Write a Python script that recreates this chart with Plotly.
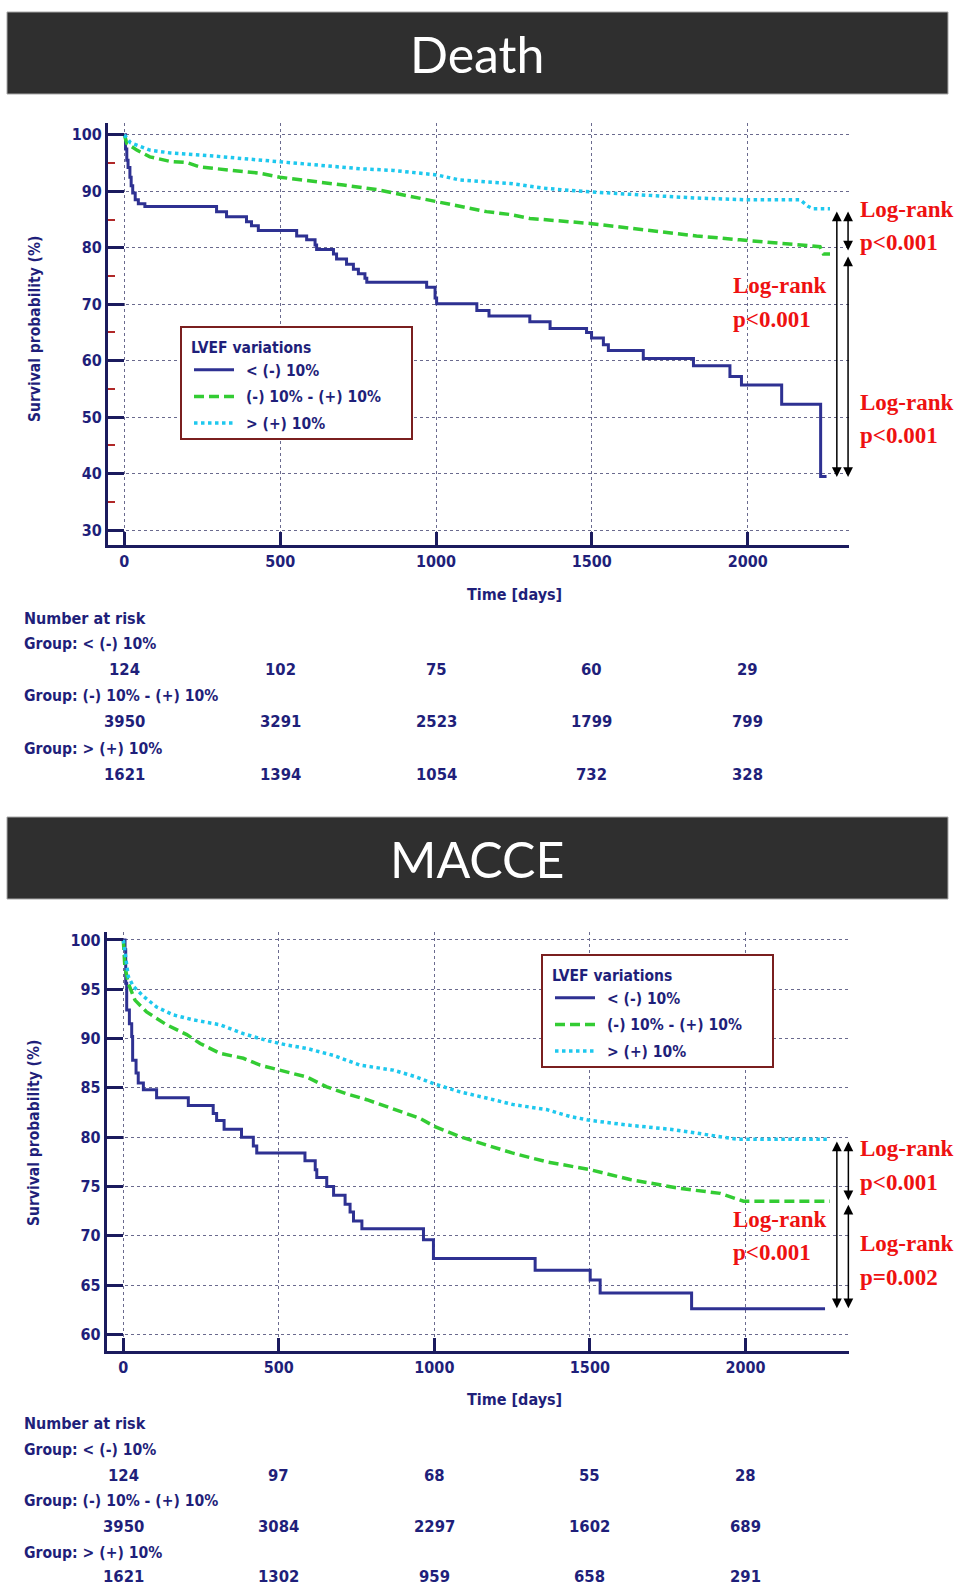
import plotly.graph_objects as go

W, H = 956, 1586


def px(x):
    return x / W


def py(y):
    return 1 - y / H


# ---------------- data ----------------
group_names = ["&lt; (-) 10%", "(-) 10% - (+) 10%", "&gt; (+) 10%"]
risk_times = [0, 500, 1000, 1500, 2000]

# Death
death_low_t = [0, 4, 8, 12, 18, 22, 27, 35, 45, 66, 296, 328, 392, 408, 430, 553, 585, 612, 617,
               671, 681, 713, 735, 751, 772, 778, 970, 997, 1002, 1131, 1170, 1301, 1366, 1483,
               1499, 1537, 1553, 1665, 1826, 1943, 1980, 2109, 2234, 2253]
death_low_s = [100, 97.5, 95.5, 94.2, 92.5, 91.0, 89.7, 88.5, 87.8, 87.3, 86.4, 85.5, 84.6, 83.9,
               83.05, 82.1, 81.4, 80.5, 79.7, 78.9, 78.0, 77.1, 76.2, 75.4, 74.6, 73.9, 73.0, 71.1,
               70.1, 68.9, 67.9, 66.9, 65.7, 65.0, 64.0, 62.8, 61.8, 60.4, 59.1, 57.2, 55.7, 52.3,
               39.5, 39.5]
death_mid_t = [0, 8, 40, 82, 147, 200, 243, 328, 435, 499, 596, 703, 810, 916, 1002, 1077, 1162,
               1237, 1301, 1494, 1676, 1836, 1975, 2104, 2232, 2243, 2264]
death_mid_s = [100, 98.5, 97.3, 96.1, 95.3, 95.1, 94.3, 93.8, 93.2, 92.5, 91.9, 91.1, 90.3, 89.1,
               88.2, 87.3, 86.4, 85.9, 85.2, 84.3, 83.1, 82.1, 81.4, 80.8, 80.2, 78.9, 78.9]
death_high_t = [0, 20, 82, 147, 275, 382, 499, 649, 756, 863, 1002, 1077, 1237, 1355, 1494, 1676,
                1836, 1997, 2168, 2195, 2211, 2264]
death_high_s = [100, 98.6, 97.3, 96.8, 96.3, 95.8, 95.2, 94.6, 94.0, 93.7, 92.9, 92.0, 91.4, 90.5,
                89.9, 89.3, 88.8, 88.5, 88.5, 87.3, 86.9, 86.9]
death_risk = [[124, 102, 75, 60, 29], [3950, 3291, 2523, 1799, 799], [1621, 1394, 1054, 732, 328]]

# MACCE
macce_low_t = [0, 5.5, 7.7, 10.9, 19.5, 27, 30, 41, 48, 64.5, 107, 209, 289, 300, 324, 380, 418,
               429, 584, 617, 622, 654, 676, 713, 729, 740, 767, 965, 997, 1324, 1501, 1533, 1827,
               2256]
macce_low_s = [100, 99.0, 95.6, 92.9, 91.5, 90.2, 87.8, 86.5, 85.5, 84.8, 84.0, 83.2, 82.4, 81.7,
               80.8, 80.0, 79.1, 78.4, 77.6, 76.7, 75.9, 75.0, 74.1, 73.2, 72.4, 71.5, 70.7, 69.6,
               67.7, 66.5, 65.5, 64.2, 62.6, 62.6]
macce_mid_t = [0, 5, 16, 37.5, 75, 139, 204, 247, 311, 386, 440, 499, 590, 654, 718, 783, 868, 954,
               1000, 1082, 1168, 1250, 1361, 1501, 1629, 1790, 1919, 1994, 2272]
macce_mid_s = [100, 97.3, 95.6, 93.9, 92.7, 91.4, 90.4, 89.5, 88.5, 88.0, 87.3, 86.8, 86.1, 85.1,
               84.4, 83.8, 82.9, 81.9, 81.1, 80.05, 79.2, 78.4, 77.5, 76.7, 75.7, 74.8, 74.3, 73.5,
               73.5]
macce_high_t = [0, 8, 16, 32, 64.5, 107, 161, 225, 311, 386, 461, 525, 590, 675, 761, 868, 943, 1000,
                1082, 1190, 1254, 1361, 1436, 1501, 1629, 1758, 1887, 1973, 2272]
macce_high_s = [100, 98.0, 96.3, 95.3, 94.3, 93.2, 92.4, 91.9, 91.4, 90.5, 89.8, 89.35, 89.0, 88.3,
                87.3, 86.8, 86.1, 85.4, 84.6, 83.8, 83.3, 82.8, 82.1, 81.7, 81.2, 80.8, 80.2, 79.8,
                79.8]
macce_risk = [[124, 97, 68, 55, 28], [3950, 3084, 2297, 1602, 689], [1621, 1302, 959, 658, 291]]

# ---------------- style ----------------
NAVY_AX = "#1b1b5e"
NAVY_TXT = "#1f1f7a"
C_LOW = "#2e3192"
C_MID = "#33cc33"
C_HIGH = "#1ec8ee"
RED = "#ee1111"
MAROON = "#7a1f1f"
GRID = "#6a6a8e"
FONT = "DejaVu Sans Condensed, Liberation Sans Narrow, DejaVu Sans, sans-serif"
SERIF = "Liberation Serif, Times New Roman, serif"
GAP = "\u2002"  # spacing between legend sample line and its label

fig = go.Figure()

styles = [dict(color=C_LOW, width=3, dash="solid"),
          dict(color=C_MID, width=3.5, dash="10px,5px"),
          dict(color=C_HIGH, width=3.5, dash="dot")]
shapes_ = ["hv", "linear", "linear"]

for i, ((xs, ys), st, shp, nm) in enumerate(zip([(death_low_t, death_low_s), (death_mid_t, death_mid_s),
                                                 (death_high_t, death_high_s)], styles, shapes_,
                                                group_names)):
    fig.add_trace(go.Scatter(x=xs, y=ys, mode="lines", line=dict(shape=shp, **st), name=GAP + nm,
                             xaxis="x", yaxis="y", legend="legend", legendgroup="d%d" % i))
for i, ((xs, ys), st, shp, nm) in enumerate(zip([(macce_low_t, macce_low_s), (macce_mid_t, macce_mid_s),
                                                 (macce_high_t, macce_high_s)], styles, shapes_,
                                                group_names)):
    fig.add_trace(go.Scatter(x=xs, y=ys, mode="lines", line=dict(shape=shp, **st), name=GAP + nm,
                             xaxis="x2", yaxis="y2", legend="legend2", legendgroup="m%d" % i))

tickfont = dict(family=FONT, size=16, color=NAVY_TXT, weight="bold")
xcommon = dict(tickvals=risk_times, ticks="inside", ticklen=13, tickwidth=3, tickcolor=NAVY_AX,
               showline=True, linewidth=3, linecolor=NAVY_AX, showgrid=True, gridcolor=GRID,
               griddash="dot", gridwidth=1, zeroline=False, tickfont=tickfont, fixedrange=True)
ycommon = dict(ticks="inside", ticklen=16, tickwidth=3, tickcolor=NAVY_AX, showline=True,
               linewidth=3, linecolor=NAVY_AX, showgrid=True, gridcolor=GRID, griddash="dot",
               gridwidth=1, zeroline=False, tickfont=tickfont, fixedrange=True)

fig.update_layout(
    width=W, height=H, margin=dict(l=0, r=0, t=0, b=0), paper_bgcolor="white",
    plot_bgcolor="white", showlegend=True,
    xaxis=dict(domain=[px(108), px(849)], range=[-52.3, 2325], anchor="y", **xcommon),
    yaxis=dict(domain=[py(545), py(123)], range=[27.35, 102.1], anchor="x", tick0=0, dtick=10,
               minor=dict(ticks="inside", ticklen=7, tickwidth=2, tickcolor="#b02828", dtick=5,
                          tick0=0, showgrid=False), **ycommon),
    xaxis2=dict(domain=[px(106.7), px(849.3)], range=[-53.4, 2334], anchor="y2", **xcommon),
    yaxis2=dict(domain=[py(1351), py(931.7)], range=[58.31, 100.84], anchor="x2", tick0=0, dtick=5,
                **ycommon),
)

LEG_FONT = dict(family=FONT, size=15.5, color=NAVY_TXT, weight="bold")
legend_common = dict(xanchor="left", yanchor="top", bgcolor="rgba(0,0,0,0)", borderwidth=0,
                     font=LEG_FONT, title=dict(text="LVEF variations", font=LEG_FONT),
                     itemwidth=40, tracegroupgap=3.5, traceorder="grouped")
fig.update_layout(legend=dict(x=px(189), y=py(333), **legend_common),
                  legend2=dict(x=px(550), y=py(961), **legend_common))

shapes = []
annotations = []

# title bars
for (y0, y1, txt) in [(12, 94, "Death"), (817, 899, "MACCE")]:
    shapes.append(dict(type="rect", xref="paper", yref="paper", x0=px(7), x1=px(948), y0=py(y1),
                       y1=py(y0), fillcolor="#2f2f2f", line=dict(color="#a8a8a8", width=1),
                       layer="above"))
    annotations.append(dict(xref="paper", yref="paper", x=px(477), y=py((y0 + y1) / 2 + 1), text=txt,
                            showarrow=False, xanchor="center", yanchor="middle",
                            font=dict(family="Lato, Open Sans, sans-serif", size=50, color="white")))

# legend boxes
for (x0, x1, y0, y1) in [(181, 412, 327, 439), (542, 773, 955, 1067)]:
    shapes.append(dict(type="rect", xref="paper", yref="paper", x0=px(x0), x1=px(x1), y0=py(y1),
                       y1=py(y0), fillcolor="white", line=dict(color=MAROON, width=2), layer="above"))

# axis titles
for (xt, yt, ya) in [(594, 329, 35), (1399, 1133, 34)]:
    annotations.append(dict(xref="paper", yref="paper", x=px(514), y=py(xt), text="Time [days]",
                            showarrow=False, xanchor="center", yanchor="middle",
                            font=dict(family=FONT, size=16, color=NAVY_TXT, weight="bold")))
    annotations.append(dict(xref="paper", yref="paper", x=px(ya), y=py(yt),
                            text="Survival probability (%)", textangle=-90, showarrow=False,
                            xanchor="center", yanchor="middle",
                            font=dict(family=FONT, size=15.5, color=NAVY_TXT, weight="bold")))

# number at risk tables
group_labels = ["Group: &lt; (-) 10%", "Group: (-) 10% - (+) 10%", "Group: &gt; (+) 10%"]
for xref, risk, rows in [("x", death_risk, [618, 644, 670, 696, 722, 748.6, 774]),
                         ("x2", macce_risk, [1423, 1450, 1475, 1501, 1526.5, 1553, 1576])]:
    annotations.append(dict(xref="paper", yref="paper", x=px(22), y=py(rows[0]), text="Number at risk",
                            showarrow=False, xanchor="left", yanchor="middle",
                            font=dict(family=FONT, size=16, color=NAVY_TXT, weight="bold")))
    for g in range(3):
        annotations.append(dict(xref="paper", yref="paper", x=px(22), y=py(rows[1 + 2 * g]),
                                text=group_labels[g], showarrow=False, xanchor="left",
                                yanchor="middle",
                                font=dict(family=FONT, size=15.6, color=NAVY_TXT, weight="bold")))
        for t, n in zip(risk_times, risk[g]):
            annotations.append(dict(xref=xref, yref="paper", x=t, y=py(rows[2 + 2 * g]), text=str(n),
                                    showarrow=False, xanchor="center", yanchor="middle",
                                    font=dict(family=FONT, size=16.5, color=NAVY_TXT, weight="bold")))

# log-rank arrows
arrow_sets = [
    ("x", "y", [(2286, 86.7, 39.4), (2322, 86.7, 79.5), (2322, 78.7, 39.4)]),
    ("x2", "y2", [(2294, 79.7, 62.65), (2331, 79.7, 73.6), (2331, 73.3, 62.65)]),
]
for xr, yr, arrs in arrow_sets:
    for (xa, ytop, ybot) in arrs:
        annotations.append(dict(xref=xr, yref=yr, axref=xr, ayref=yr, x=xa, y=ybot, ax=xa, ay=ytop,
                                text="", showarrow=True, arrowside="end+start", arrowhead=2,
                                arrowsize=1.3, arrowwidth=1.5, arrowcolor="black"))

# log-rank texts
lr_texts = [
    (858, 210, "Log-rank"), (858, 243, "p&lt;0.001"),
    (731, 286, "Log-rank"), (731, 319, "p&lt;0.001"),
    (858, 403, "Log-rank"), (858, 435, "p&lt;0.001"),
    (858, 1148, "Log-rank"), (858, 1182, "p&lt;0.001"),
    (731, 1219, "Log-rank"), (731, 1252, "p&lt;0.001"),
    (858, 1243, "Log-rank"), (858, 1277, "p=0.002"),
]
for (x, y, t) in lr_texts:
    annotations.append(dict(xref="paper", yref="paper", x=px(x), y=py(y), text=t, showarrow=False,
                            xanchor="left", yanchor="middle",
                            font=dict(family=SERIF, size=23, color=RED, weight="bold")))

fig.update_layout(shapes=shapes, annotations=annotations)
fig.write_html("out.html")
